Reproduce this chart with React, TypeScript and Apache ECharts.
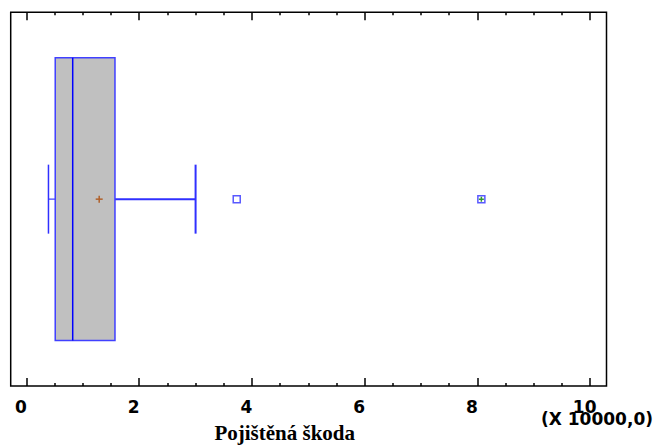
import React, { useEffect, useRef } from "react";
import * as echarts from "echarts";

// ---- data (units of 10000) ----
const categories = ["Pojištěná škoda"];
const lowerWhisker = [0.39];
const q1 = [0.51];
const median = [0.82];
const q3 = [1.57];
const upperWhisker = [3.0];
const mean = [1.29];
const outliers = [3.73];
const farOutliers = [8.07];
const majorTicks = [0, 2, 4, 6, 8, 10];
const minorTicks = [0.5, 1, 1.5, 2.5, 3, 3.5, 4.5, 5, 5.5, 6.5, 7, 7.5, 8.5, 9, 9.5];
const axisTitle = "Pojištěná škoda";
const unitLabel = "(X 10000,0)";

const AXIS_MIN = -0.28;
const AXIS_MAX = 10.29;

export default function App() {
  const ref = useRef<HTMLDivElement>(null);

  useEffect(() => {
    if (!ref.current) return;
    const chart = echarts.init(ref.current, undefined, { renderer: "svg" });

    const boxData = categories.map((_, i) => [
      lowerWhisker[i],
      q1[i],
      median[i],
      q3[i],
      upperWhisker[i],
      mean[i],
      i,
    ]);

    const tickStyle = { color: "#000", width: 1.5 };
    const baseAxis = {
      type: "value",
      min: AXIS_MIN,
      max: AXIS_MAX,
      axisLine: { show: false },
      splitLine: { show: false },
    };

    const blue = "#3030ff";

    const option = {
      animation: false,
      backgroundColor: "#fff",
      grid: {
        left: 10.7,
        right: 52.5,
        top: 12.3,
        bottom: 60,
        show: true,
        borderColor: "#000",
        borderWidth: 1.5,
        backgroundColor: "transparent",
      },
      xAxis: [
        {
          ...baseAxis,
          position: "bottom",
          axisTick: {
            show: true,
            inside: true,
            length: 8,
            customValues: majorTicks,
            lineStyle: tickStyle,
          },
          axisLabel: {
            show: true,
            customValues: majorTicks,
            margin: 12,
            padding: [0, 11, 0, 0],
            fontFamily: "DejaVu Sans",
            fontWeight: "bold",
            fontSize: 17,
            color: "#000",
          },
        },
        {
          ...baseAxis,
          position: "bottom",
          axisTick: {
            show: true,
            inside: true,
            length: 3,
            customValues: minorTicks,
            lineStyle: tickStyle,
          },
          axisLabel: { show: false },
        },
        {
          ...baseAxis,
          position: "top",
          axisTick: {
            show: true,
            inside: true,
            length: 8,
            customValues: majorTicks,
            lineStyle: tickStyle,
          },
          axisLabel: { show: false },
        },
        {
          ...baseAxis,
          position: "top",
          axisTick: {
            show: true,
            inside: true,
            length: 3,
            customValues: minorTicks,
            lineStyle: tickStyle,
          },
          axisLabel: { show: false },
        },
      ],
      yAxis: {
        type: "category",
        data: categories,
        axisLine: { show: false },
        axisTick: { show: false },
        axisLabel: { show: false },
        splitLine: { show: false },
      },
      series: [
        {
          type: "custom",
          xAxisIndex: 0,
          yAxisIndex: 0,
          encode: { x: [0, 1, 2, 3, 4, 5], y: 6 },
          data: boxData,
          renderItem: (params: any, api: any) => {
            const lw = api.value(0);
            const a = api.value(1);
            const m = api.value(2);
            const b = api.value(3);
            const uw = api.value(4);
            const mn = api.value(5);
            const cat = api.value(6);
            const pLw = api.coord([lw, cat]);
            const pA = api.coord([a, cat]);
            const pM = api.coord([m, cat]);
            const pB = api.coord([b, cat]);
            const pUw = api.coord([uw, cat]);
            const pMn = api.coord([mn, cat]);
            const band = api.size([0, 1])[1];
            const boxH = band * 0.7565;
            const capH = band * 0.1846;
            const cy = pA[1];
            const plus = 3.5;
            return {
              type: "group",
              children: [
                {
                  type: "line",
                  shape: { x1: pLw[0], y1: cy, x2: pA[0], y2: cy },
                  style: { stroke: "#6060ff", lineWidth: 1.5 },
                },
                {
                  type: "line",
                  shape: { x1: pLw[0], y1: cy - capH / 2, x2: pLw[0], y2: cy + capH / 2 },
                  style: { stroke: blue, lineWidth: 1.5 },
                },
                {
                  type: "line",
                  shape: { x1: pB[0], y1: cy, x2: pUw[0], y2: cy },
                  style: { stroke: blue, lineWidth: 2 },
                },
                {
                  type: "line",
                  shape: { x1: pUw[0], y1: cy - capH / 2, x2: pUw[0], y2: cy + capH / 2 },
                  style: { stroke: blue, lineWidth: 2 },
                },
                {
                  type: "rect",
                  shape: { x: pA[0], y: cy - boxH / 2, width: pB[0] - pA[0], height: boxH },
                  style: { fill: "#c0c0c0", stroke: "#4040ff", lineWidth: 1.5 },
                },
                {
                  type: "line",
                  shape: { x1: pM[0], y1: cy - boxH / 2, x2: pM[0], y2: cy + boxH / 2 },
                  style: { stroke: "#0000ff", lineWidth: 1.5 },
                },
                {
                  type: "line",
                  shape: { x1: pMn[0] - plus, y1: cy, x2: pMn[0] + plus, y2: cy },
                  style: { stroke: "#b0602a", lineWidth: 1.5 },
                },
                {
                  type: "line",
                  shape: { x1: pMn[0], y1: cy - plus, x2: pMn[0], y2: cy + plus },
                  style: { stroke: "#b0602a", lineWidth: 1.5 },
                },
              ],
            };
          },
          z: 2,
        },
        {
          type: "scatter",
          xAxisIndex: 0,
          yAxisIndex: 0,
          symbol: "rect",
          symbolSize: 7,
          itemStyle: { color: "#fff", borderColor: blue, borderWidth: 1.5 },
          data: [...outliers, ...farOutliers].map((v) => [v, 0]),
          z: 3,
        },
        {
          type: "scatter",
          xAxisIndex: 0,
          yAxisIndex: 0,
          symbol: "path://M0,5L10,5M5,0L5,10",
          symbolSize: 5,
          itemStyle: { color: "none", borderColor: "#008000", borderWidth: 1.5 },
          data: farOutliers.map((v) => [v, 0]),
          z: 4,
        },
      ],
      graphic: [
        {
          type: "text",
          x: 541,
          y: 419,
          style: {
            text: unitLabel,
            font: 'bold 17px "DejaVu Sans"',
            fill: "#000",
            align: "left",
            verticalAlign: "middle",
          },
          z: 10,
        },
        {
          type: "text",
          x: 284.7,
          y: 433,
          style: {
            text: axisTitle,
            font: 'bold 21px "Liberation Serif"',
            fill: "#000",
            align: "center",
            verticalAlign: "middle",
          },
          z: 10,
        },
      ],
    };

    chart.setOption(option as any);
    return () => {
      chart.dispose();
    };
  }, []);

  return (
    <div
      ref={ref}
      style={{
        position: "fixed",
        left: 0,
        top: 0,
        width: 659,
        height: 446,
        background: "#fff",
      }}
    />
  );
}
